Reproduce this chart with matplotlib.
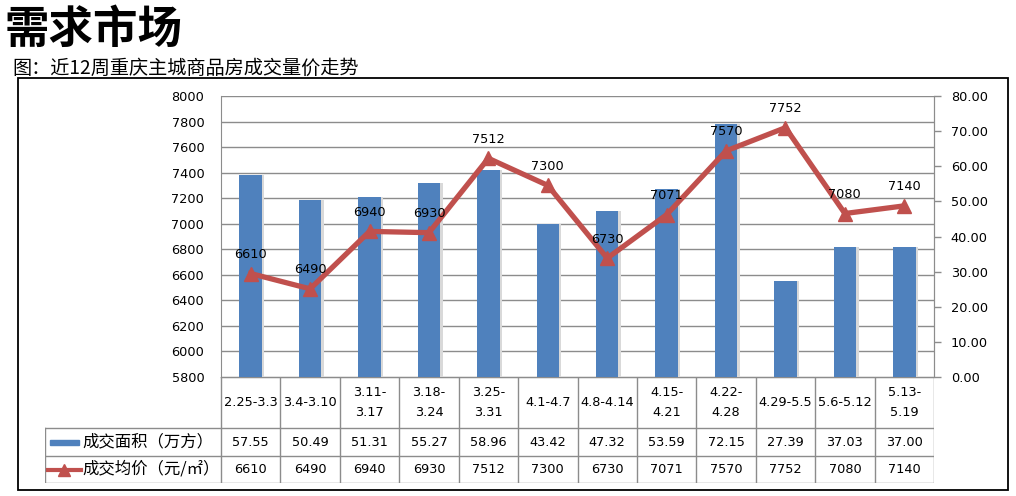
"""
    需求市场: bar + line combo chart with data table underneath
"""
import matplotlib
matplotlib.use("Agg")
import matplotlib.pyplot as plt
from matplotlib.patches import Rectangle
from matplotlib.lines import Line2D

# numbers in a Verdana-like face, chinese falls back to CJK
plt.rcParams['font.family'] = ['DejaVu Sans', 'Noto Sans CJK SC']
CJK = ['Noto Sans CJK SC', 'DejaVu Sans']

### chart data
weeks = ["2.25-3.3", "3.4-3.10", "3.11-\n3.17", "3.18-\n3.24", "3.25-\n3.31", "4.1-4.7",
         "4.8-4.14", "4.15-\n4.21", "4.22-\n4.28", "4.29-5.5", "5.6-5.12", "5.13-\n5.19"]
area = [57.55, 50.49, 51.31, 55.27, 58.96, 43.42, 47.32, 53.59, 72.15, 27.39, 37.03, 37.00]
price = [6610, 6490, 6940, 6930, 7512, 7300, 6730, 7071, 7570, 7752, 7080, 7140]

area_name = "成交面积（万方）"
price_name = "成交均价（元/㎡）"

BLUE = "#4F81BD"
RED = "#C0504D"
GRID = "#8C8C8C"
NUM_FS = 9.3
W, H = 1016, 496


def px(x0, y0, x1, y1):
    # pixel box -> figure fraction rect
    return [x0 / W, 1 - y1 / H, (x1 - x0) / W, (y1 - y0) / H]


fig = plt.figure(figsize=(W / 100, H / 100), dpi=100)

# outer frame
fig.patches.append(Rectangle((18 / W, 1 - 490 / H), 990 / W, 412 / H,
                             transform=fig.transFigure, fill=False,
                             edgecolor="black", lw=1.3))

fig.text(5 / W, 1 - 30 / H, "需求市场", fontsize=32, fontweight="heavy", va="center",
         ha="left", family=CJK)
fig.text(12 / W, 1 - 68 / H, "图：近12周重庆主城商品房成交量价走势", fontsize=13.8,
         va="center", ha="left", family=CJK)

xs = list(range(len(weeks)))

# base axes: left scale + grid
ax = fig.add_axes(px(221, 96, 934, 377))
ax.set_xlim(-0.5, len(weeks) - 0.5)
ax.set_ylim(5800, 8000)
ax.set_yticks(range(5800, 8001, 200))
ax.yaxis.grid(True, color=GRID, lw=1)
ax.set_axisbelow(True)
ax.set_xticks([])
ax.tick_params(axis="y", length=0, pad=12, labelsize=NUM_FS)
for s in ["left", "bottom", "right"]:
    ax.spines[s].set_color(GRID)
ax.spines["top"].set_visible(False)

# bars on right scale
ax2 = ax.twinx()
ax2.set_ylim(0, 80)
ax2.set_yticks(range(0, 81, 10))
ax2.set_yticklabels([f"{v:.2f}" for v in range(0, 81, 10)])
ax2.tick_params(axis="y", length=5, width=1, color=GRID, pad=7, labelsize=NUM_FS)
for s in ["left", "top", "bottom"]:
    ax2.spines[s].set_visible(False)
ax2.spines["right"].set_color(GRID)
ax2.bar([x + 0.04 for x in xs], area, width=0.38, color="#D9D9D9", zorder=1)
ax2.bar(xs, area, width=0.38, color=BLUE, zorder=2)

# price line on left scale, on top
ax3 = ax.twinx()
ax3.set_ylim(5800, 8000)
ax3.axis("off")
ax3.plot(xs, price, color=RED, lw=3.8, marker="^", markersize=10, zorder=3)
for x, p in zip(xs, price):
    ax3.annotate(str(p), (x, p), xytext=(0, 9), textcoords="offset points",
                 ha="center", va="bottom", fontsize=NUM_FS)

# data table
tab = fig.add_axes(px(45, 377, 934, 483))
lab_w = 176 / (713 / 12)
tab.set_xlim(-0.5 - lab_w, len(weeks) - 0.5)
tab.set_ylim(106, 0)
tab.axis("off")
rows_y = [0, 51, 79, 106]
left = -0.5 - lab_w
right = len(weeks) - 0.5
# horizontal lines
tab.plot([-0.5, right], [0, 0], color=GRID, lw=1)
for y in rows_y[1:]:
    tab.plot([left, right], [y, y], color=GRID, lw=1)
# vertical lines
for i in range(len(weeks) + 1):
    tab.plot([i - 0.5, i - 0.5], [0, 106], color=GRID, lw=1)
tab.plot([left, left], [51, 106], color=GRID, lw=1)

for i, w in enumerate(weeks):
    tab.text(i, 25.5, w, ha="center", va="center", fontsize=NUM_FS, linespacing=1.6)
    tab.text(i, 65, f"{area[i]:.2f}", ha="center", va="center", fontsize=NUM_FS)
    tab.text(i, 92.5, str(price[i]), ha="center", va="center", fontsize=NUM_FS)

# legend keys inside the table
ppx = (713 / 12)
sw0 = left + 5 / ppx
sw1 = left + 34 / ppx
tab.add_patch(Rectangle((sw0, 62.5), sw1 - sw0, 5, color=BLUE))
tab.add_line(Line2D([sw0 - 2 / ppx, sw1 + 2 / ppx], [92.5, 92.5], color=RED, lw=3))
tab.plot([(sw0 + sw1) / 2], [92.5], marker="^", color=RED, markersize=8)
tab.text(sw1 + 3 / ppx, 65, area_name, ha="left", va="center", fontsize=11.8, family=CJK)
tab.text(sw1 + 3 / ppx, 92.5, price_name, ha="left", va="center", fontsize=11.8, family=CJK)

fig.savefig("out.png", dpi=100)
